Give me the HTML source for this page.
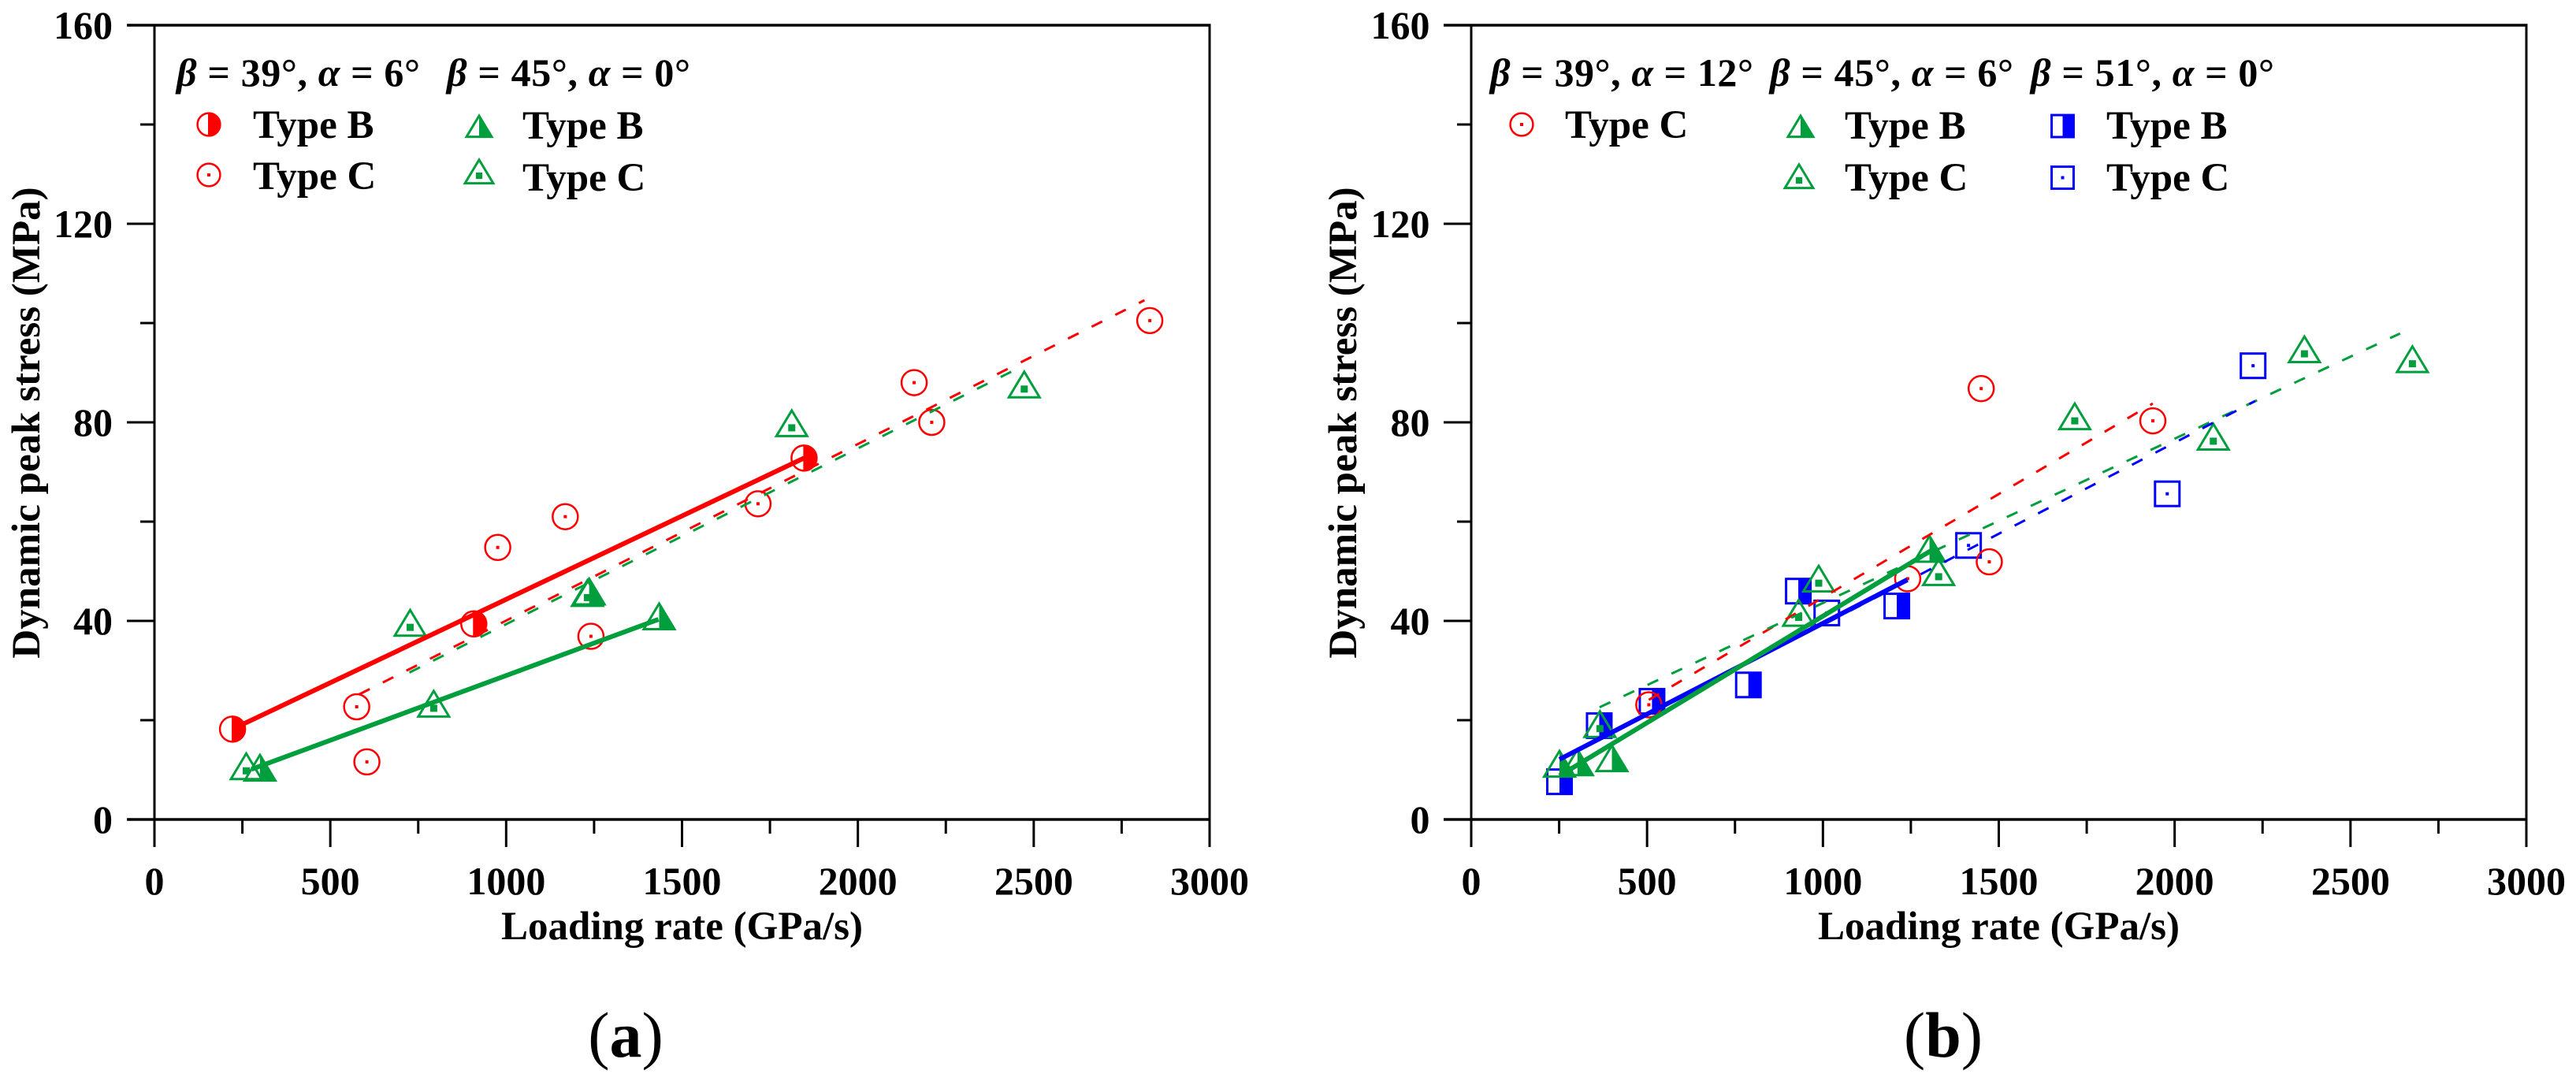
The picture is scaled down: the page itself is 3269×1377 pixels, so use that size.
<!DOCTYPE html>
<html lang="en">
<head>
<meta charset="utf-8">
<title>Dynamic peak stress vs loading rate</title>
<style>
html,body{margin:0;padding:0;background:#fff;}
svg{display:block;}
text{font-family:"Liberation Serif",serif;font-weight:bold;fill:#000;}
.tick{font-size:50px;}
.axt{font-size:51px;}
.leg{font-size:51px;}
.ttl{font-size:50px;}
.ttl tspan.g{font-style:italic;}
.cap{font-size:82px;}
.cap tspan.p{font-weight:normal;}
</style>
</head>
<body>
<svg id="chart" xmlns="http://www.w3.org/2000/svg" width="3269" height="1377" viewBox="0 0 3269 1377">
  <rect x="0" y="0" width="3269" height="1377" fill="#fff"/>
  <g id="panel-a"></g>
  <g id="panel-b"></g>

  <g>
    <text class="axt" transform="translate(50,536.5) rotate(-90)" text-anchor="middle">Dynamic peak stress (MPa)</text>
    <text class="axt" x="865.5" y="1192" text-anchor="middle">Loading rate (GPa/s)</text>
    <text class="ttl" x="224" y="109" textLength="309" lengthAdjust="spacing"><tspan class="g">β</tspan> = 39°, <tspan class="g">α</tspan> = 6°</text>
    <text class="ttl" x="567" y="109" textLength="309" lengthAdjust="spacing"><tspan class="g">β</tspan> = 45°, <tspan class="g">α</tspan> = 0°</text>
    <text class="leg" x="321" y="175">Type B</text>
    <text class="leg" x="321" y="240">Type C</text>
    <text class="leg" x="663" y="176">Type B</text>
    <text class="leg" x="663" y="242">Type C</text>
    <text class="cap" x="794" y="1341" text-anchor="middle"><tspan class="p">(</tspan>a<tspan class="p">)</tspan></text>
  </g>

  <g>
    <text class="axt" transform="translate(1721,536.5) rotate(-90)" text-anchor="middle">Dynamic peak stress (MPa)</text>
    <text class="axt" x="2536.5" y="1192" text-anchor="middle">Loading rate (GPa/s)</text>
    <text class="ttl" x="1891" y="109" textLength="334" lengthAdjust="spacing"><tspan class="g">β</tspan> = 39°, <tspan class="g">α</tspan> = 12°</text>
    <text class="ttl" x="2246" y="109" textLength="309" lengthAdjust="spacing"><tspan class="g">β</tspan> = 45°, <tspan class="g">α</tspan> = 6°</text>
    <text class="ttl" x="2577" y="109" textLength="309" lengthAdjust="spacing"><tspan class="g">β</tspan> = 51°, <tspan class="g">α</tspan> = 0°</text>
    <text class="leg" x="1986" y="175">Type C</text>
    <text class="leg" x="2341" y="176">Type B</text>
    <text class="leg" x="2341" y="242">Type C</text>
    <text class="leg" x="2673" y="176">Type B</text>
    <text class="leg" x="2673" y="242">Type C</text>
    <text class="cap" x="2466" y="1341" text-anchor="middle"><tspan class="p">(</tspan>b<tspan class="p">)</tspan></text>
  </g>
</svg>
<script>
// ---- tick data ----
const xMajorTicks = [0, 500, 1000, 1500, 2000, 2500, 3000];
const xMinorTicks = [250, 750, 1250, 1750, 2250, 2750];
const yMajorTicks = [0, 40, 80, 120, 160];
const yMinorTicks = [20, 60, 100, 140];

// ---- panel (a) series ----
const aCircleBX = [222, 908, 1847];
const aCircleBY = [18.2, 39.4, 72.8];
const aCircleCX = [575, 604, 976, 1168, 1241, 1716, 2160, 2210, 2830];
const aCircleCY = [22.7, 11.6, 54.8, 61, 36.9, 63.6, 88, 80, 100.5];
const aTriBX = [300, 1236, 1435];
const aTriBY = [9.5, 45, 40];
const aTriCX = [261, 727, 794, 1231, 1812, 2473];
const aTriCY = [9.8, 38.7, 22.4, 44.7, 78.9, 86.7];
const aFitRedSolidX = [222, 1847];
const aFitRedSolidY = [18.2, 72.8];
const aFitGreenSolidX = [276, 1433];
const aFitGreenSolidY = [10.1, 40.3];
const aFitRedDashX = [582, 2815];
const aFitRedDashY = [25.2, 104.6];
const aFitGreenDashX = [725, 2473];
const aFitGreenDashY = [29.6, 91.5];

// ---- panel (b) series ----
const bCircleCX = [505, 1241, 1450, 1473, 1938];
const bCircleCY = [23.1, 48.5, 86.8, 51.9, 80.3];
const bTriBX = [251, 302, 400, 1303];
const bTriBY = [10.3, 10.6, 11.4, 53.6];
const bTriCX = [366, 931, 988, 1329, 1716, 2110, 2369, 2676];
const bTriCY = [18.3, 40.7, 47.6, 48.9, 80.3, 76.2, 93.8, 91.8];
const bSquareBX = [251, 364, 514, 788, 930, 1210];
const bSquareBY = [7.6, 18.9, 23.8, 27.1, 46, 43];
const bSquareCX = [1011, 1414, 1979, 2223];
const bSquareCY = [41.6, 55.2, 65.6, 91.4];
const bFitBlueSolidX = [251, 1240];
const bFitBlueSolidY = [12.1, 48.3];
const bFitGreenSolidX = [251, 1306];
const bFitGreenSolidY = [8.8, 54.1];
const bFitRedDashX = [505, 1938];
const bFitRedDashY = [24.1, 83.8];
const bFitGreenDashX = [365, 2641];
const bFitGreenDashY = [22.6, 97.9];
const bFitBlueDashX = [1011, 2229];
const bFitBlueDashY = [39.6, 84.3];

// ---- layout and styling ----
const RED = '#ff0000', GREEN = '#009e3c', BLUE = '#0000ff';
const NS = 'http://www.w3.org/2000/svg';
const plotWidth = 1339, plotTop = 32, plotBottom = 1040;
const xMax = 3000, yMax = 160;

function yScale(v) { return plotBottom - v / yMax * (plotBottom - plotTop); }
function xScaleFor(x0) { return function (v) { return x0 + v / xMax * plotWidth; }; }

function mk(tag, attrs, parent) {
  const el = document.createElementNS(NS, tag);
  for (const k in attrs) el.setAttribute(k, attrs[k]);
  parent.appendChild(el);
  return el;
}

function line(parent, x1, y1, x2, y2, w, color, name) {
  const el = mk('line', { x1: x1, y1: y1, x2: x2, y2: y2, stroke: color, 'stroke-width': w }, parent);
  
  
  return el;
}

function label(parent, x, y, anchor, str, name) {
  const el = mk('text', { x: x, y: y, 'text-anchor': anchor, class: 'tick' }, parent);
  el.textContent = str;
  
  
  return el;
}

function drawAxes(parent, x0, sx, labelRight) {
  const left = x0 - 35, right = x0 + plotWidth;
  line(parent, left, plotTop, right + 1.5, plotTop, 3.5, '#000', 'top-axis-line');
  line(parent, left, plotBottom, right + 1.5, plotBottom, 3.5, '#000', 'x-axis-line');
  line(parent, x0, plotTop, x0, plotBottom, 3, '#000', 'y-axis-line');
  line(parent, right, plotTop, right, plotBottom, 3, '#000', 'right-axis-line');
  yMajorTicks.forEach(function (v) {
    if (v !== 0 && v !== 160) line(parent, left, yScale(v), x0, yScale(v), 3, '#000', 'y-major-tick');
    label(parent, labelRight, yScale(v) + 17, 'end', String(v), 'y-tick-label');
  });
  yMinorTicks.forEach(function (v) {
    line(parent, x0 - 18, yScale(v), x0, yScale(v), 3, '#000', 'y-minor-tick');
  });
  xMajorTicks.forEach(function (v) {
    line(parent, sx(v), plotBottom, sx(v), plotBottom + 35, 3, '#000', 'x-major-tick');
    label(parent, sx(v), plotBottom + 95, 'middle', String(v), 'x-tick-label');
  });
  xMinorTicks.forEach(function (v) {
    line(parent, sx(v), plotBottom, sx(v), plotBottom + 18, 3, '#000', 'x-minor-tick');
  });
}

// ---- marker shapes ----
function circleMarker(g, cx, cy, color, half, k) {
  const r = 16 * k;
  mk('circle', { cx: cx, cy: cy, r: r, fill: half ? '#fff' : 'none', stroke: color, 'stroke-width': 2.5 }, g);
  if (half) {
    mk('path', { d: 'M' + cx + ' ' + (cy - r) + 'A' + r + ' ' + r + ' 0 0 1 ' + cx + ' ' + (cy + r) + 'Z', fill: color, stroke: color, 'stroke-width': 2 }, g);
  } else {
    mk('rect', { x: cx - 2, y: cy - 2, width: 4, height: 4, fill: color }, g);
  }
}

function triangleMarker(g, cx, cy, color, half, k) {
  const hw = 19.5 * k, up = 22 * k, dn = 10.5 * k;
  mk('polygon', { points: cx + ',' + (cy - up) + ' ' + (cx + hw) + ',' + (cy + dn) + ' ' + (cx - hw) + ',' + (cy + dn), fill: 'none', stroke: color, 'stroke-width': 3 }, g);
  if (half) {
    mk('polygon', { points: cx + ',' + (cy - up) + ' ' + (cx + hw) + ',' + (cy + dn) + ' ' + cx + ',' + (cy + dn), fill: color }, g);
  } else {
    mk('rect', { x: cx - 4.5 * k, y: cy - 4.5 * k, width: 9 * k, height: 9 * k, fill: color }, g);
  }
}

function squareMarker(g, cx, cy, color, half, k) {
  const h = 15.5 * k;
  mk('rect', { x: cx - h, y: cy - h, width: 2 * h, height: 2 * h, fill: 'none', stroke: color, 'stroke-width': 3 }, g);
  if (half) {
    mk('rect', { x: cx, y: cy - h, width: h, height: 2 * h, fill: color }, g);
  } else {
    mk('rect', { x: cx - 2, y: cy - 2, width: 4, height: 4, fill: color }, g);
  }
}

function drawSeries(parent, sx, xs, ys, shape, color, half, name) {
  const series = mk('g', {}, parent);
  
  
  xs.forEach(function (x, i) {
    const g = mk('g', {}, series);
    
    
    shape(g, sx(x), yScale(ys[i]), color, half, 1);
  });
}

function drawFit(parent, sx, xs, ys, color, dashed, name) {
  const el = mk('line', {
    x1: sx(xs[0]), y1: yScale(ys[0]), x2: sx(xs[1]), y2: yScale(ys[1]),
    stroke: color, 'stroke-width': dashed ? 3 : 6
  }, parent);
  if (dashed) el.setAttribute('stroke-dasharray', '15 18.55');
  
  
}

function legendMarker(parent, shape, cx, cy, color, half, k, name) {
  const g = mk('g', {}, parent);
  
  
  shape(g, cx, cy, color, half, k);
}

// ---- panel (a) ----
(function () {
  const p = document.getElementById('panel-a');
  const sx = xScaleFor(196);
  drawAxes(p, 196, sx, 143);
  drawSeries(p, sx, aCircleBX, aCircleBY, circleMarker, RED, true, 'series-a-39-type-b');
  drawSeries(p, sx, aCircleCX, aCircleCY, circleMarker, RED, false, 'series-a-39-type-c');
  drawSeries(p, sx, aTriBX, aTriBY, triangleMarker, GREEN, true, 'series-a-45-type-b');
  drawSeries(p, sx, aTriCX, aTriCY, triangleMarker, GREEN, false, 'series-a-45-type-c');
  drawFit(p, sx, aFitRedDashX, aFitRedDashY, RED, true, 'fit-a-39-type-c');
  drawFit(p, sx, aFitGreenDashX, aFitGreenDashY, GREEN, true, 'fit-a-45-type-c');
  drawFit(p, sx, aFitRedSolidX, aFitRedSolidY, RED, false, 'fit-a-39-type-b');
  drawFit(p, sx, aFitGreenSolidX, aFitGreenSolidY, GREEN, false, 'fit-a-45-type-b');
  legendMarker(p, circleMarker, 265, 158, RED, true, 0.9, 'legend-marker-a-39-type-b');
  legendMarker(p, circleMarker, 265, 222, RED, false, 0.9, 'legend-marker-a-39-type-c');
  legendMarker(p, triangleMarker, 608, 165, GREEN, true, 0.82, 'legend-marker-a-45-type-b');
  legendMarker(p, triangleMarker, 608, 223, GREEN, false, 0.92, 'legend-marker-a-45-type-c');
})();

// ---- panel (b) ----
(function () {
  const p = document.getElementById('panel-b');
  const sx = xScaleFor(1867);
  drawAxes(p, 1867, sx, 1814.5);
  drawSeries(p, sx, bSquareBX, bSquareBY, squareMarker, BLUE, true, 'series-b-51-type-b');
  drawSeries(p, sx, bSquareCX, bSquareCY, squareMarker, BLUE, false, 'series-b-51-type-c');
  drawSeries(p, sx, bCircleCX, bCircleCY, circleMarker, RED, false, 'series-b-39-type-c');
  drawSeries(p, sx, bTriBX, bTriBY, triangleMarker, GREEN, true, 'series-b-45-type-b');
  drawSeries(p, sx, bTriCX, bTriCY, triangleMarker, GREEN, false, 'series-b-45-type-c');
  drawFit(p, sx, bFitRedDashX, bFitRedDashY, RED, true, 'fit-b-39-type-c');
  drawFit(p, sx, bFitGreenDashX, bFitGreenDashY, GREEN, true, 'fit-b-45-type-c');
  drawFit(p, sx, bFitBlueDashX, bFitBlueDashY, BLUE, true, 'fit-b-51-type-c');
  drawFit(p, sx, bFitBlueSolidX, bFitBlueSolidY, BLUE, false, 'fit-b-51-type-b');
  drawFit(p, sx, bFitGreenSolidX, bFitGreenSolidY, GREEN, false, 'fit-b-45-type-b');
  legendMarker(p, circleMarker, 1931, 158, RED, false, 0.9, 'legend-marker-b-39-type-c');
  legendMarker(p, triangleMarker, 2285, 165, GREEN, true, 0.82, 'legend-marker-b-45-type-b');
  legendMarker(p, triangleMarker, 2283, 229, GREEN, false, 0.92, 'legend-marker-b-45-type-c');
  legendMarker(p, squareMarker, 2617.5, 160, BLUE, true, 0.9, 'legend-marker-b-51-type-b');
  legendMarker(p, squareMarker, 2617.5, 225.5, BLUE, false, 0.9, 'legend-marker-b-51-type-c');
})();
</script>
</body>
</html>
